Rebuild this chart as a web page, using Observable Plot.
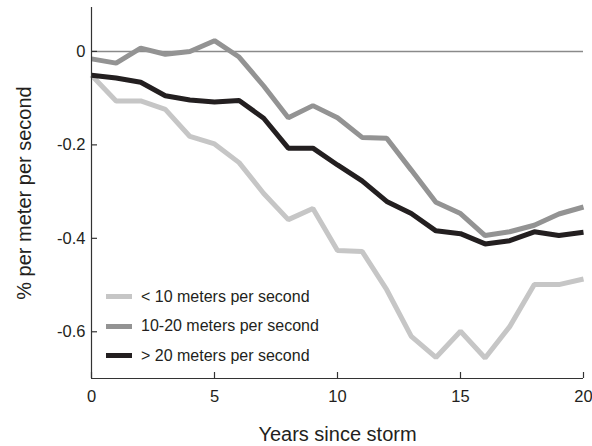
<!DOCTYPE html>
<html>
<head>
<meta charset="utf-8">
<script src="https://cdn.jsdelivr.net/npm/d3@7"></script>
<script src="https://cdn.jsdelivr.net/npm/@observablehq/plot@0.6"></script>
<style>
  html, body { margin: 0; padding: 0; background: #fff; }
  #wrap { position: relative; width: 592px; height: 446px; font-family: "Liberation Sans", Arial, Helvetica, sans-serif; }
  #legend { position: absolute; left: 106px; top: 282px; font-size: 16px; color: #231f20; }
  .row { display: flex; align-items: center; height: 29.5px; }
  .sw { width: 26px; height: 5px; margin-right: 9px; }
</style>
</head>
<body>
<div id="wrap"></div>
<script>
const years = [0,1,2,3,4,5,6,7,8,9,10,11,12,13,14,15,16,17,18,19,20];
const seriesNames = ["< 10 meters per second", "10-20 meters per second", "> 20 meters per second"];
const seriesColors = ["#c6c6c6", "#939393", "#231f20"];
const lt10 = [-0.051, -0.106, -0.106, -0.124, -0.182, -0.198, -0.238, -0.304, -0.360, -0.336, -0.426, -0.428, -0.510, -0.610, -0.655, -0.599, -0.656, -0.589, -0.499, -0.499, -0.487];
const mid  = [-0.016, -0.025, 0.007, -0.006, 0.000, 0.023, -0.012, -0.074, -0.142, -0.116, -0.142, -0.184, -0.186, -0.254, -0.323, -0.347, -0.394, -0.386, -0.372, -0.348, -0.333];
const gt20 = [-0.051, -0.057, -0.066, -0.095, -0.104, -0.108, -0.105, -0.143, -0.207, -0.207, -0.243, -0.277, -0.321, -0.347, -0.384, -0.390, -0.412, -0.405, -0.386, -0.394, -0.387];
const xTicks = [0, 5, 10, 15, 20];
const yTicks = [0, -0.2, -0.4, -0.6];

const valuesBySeries = [lt10, mid, gt20];
const data = [];
valuesBySeries.forEach((vals, s) => {
  vals.forEach((v, i) => data.push({series: seriesNames[s], year: years[i], value: v}));
});

const fmt = d => d === 0 ? "0" : String(d);

const W = 592, H = 446, mL = 91, mR = 9, mT = 7, mB = 68, tick = 6;

const chart = Plot.plot({
  width: W,
  height: H,
  marginLeft: mL,
  marginRight: mR,
  marginTop: mT,
  marginBottom: mB,
  style: {fontFamily: '"Liberation Sans", Arial, Helvetica, sans-serif', color: "#231f20", background: "#fff"},
  x: {domain: [0, 20]},
  y: {domain: [-0.7, 0.094]},
  color: {domain: seriesNames, range: seriesColors},
  marks: [
    Plot.ruleY([0], {stroke: "#8a8a8a", strokeWidth: 1.5}),
    Plot.line(data, {x: "year", y: "value", z: "series", stroke: "series", strokeWidth: 5, strokeLinejoin: "miter", strokeLinecap: "butt"}),
    Plot.ruleX([0], {stroke: "#333", strokeWidth: 1.2}),
    Plot.ruleY([-0.7], {stroke: "#333", strokeWidth: 1.2}),
    // inward tick marks
    Plot.tickX(xTicks, {x: d => d, insetTop: H - mT - mB - tick, stroke: "#333", strokeWidth: 1.2}),
    Plot.tickY(yTicks, {y: d => d, insetRight: W - mL - mR - tick, stroke: "#333", strokeWidth: 1.2}),
    // tick labels and titles
    Plot.axisX({ticks: xTicks, tickFormat: fmt, tickSize: 0, tickPadding: 12, fontSize: 16.5,
      label: "Years since storm", labelAnchor: "center", labelArrow: "none", labelOffset: 62}),
    Plot.axisY({ticks: yTicks, tickFormat: fmt, tickSize: 0, tickPadding: 6, fontSize: 16.5,
      label: "% per meter per second", labelAnchor: "center", labelArrow: "none", labelOffset: 75})
  ]
});
chart.querySelectorAll('[aria-label="x-axis label"] text, [aria-label="y-axis label"] text').forEach(t => t.setAttribute("font-size", 20));
document.getElementById("wrap").appendChild(chart);

const legend = document.createElement("div");
legend.id = "legend";
seriesNames.forEach((name, i) => {
  const row = document.createElement("div");
  row.className = "row";
  const sw = document.createElement("div");
  sw.className = "sw";
  sw.style.background = seriesColors[i];
  const lab = document.createElement("span");
  lab.textContent = name;
  row.appendChild(sw);
  row.appendChild(lab);
  legend.appendChild(row);
});
document.getElementById("wrap").appendChild(legend);
</script>
</body>
</html>
